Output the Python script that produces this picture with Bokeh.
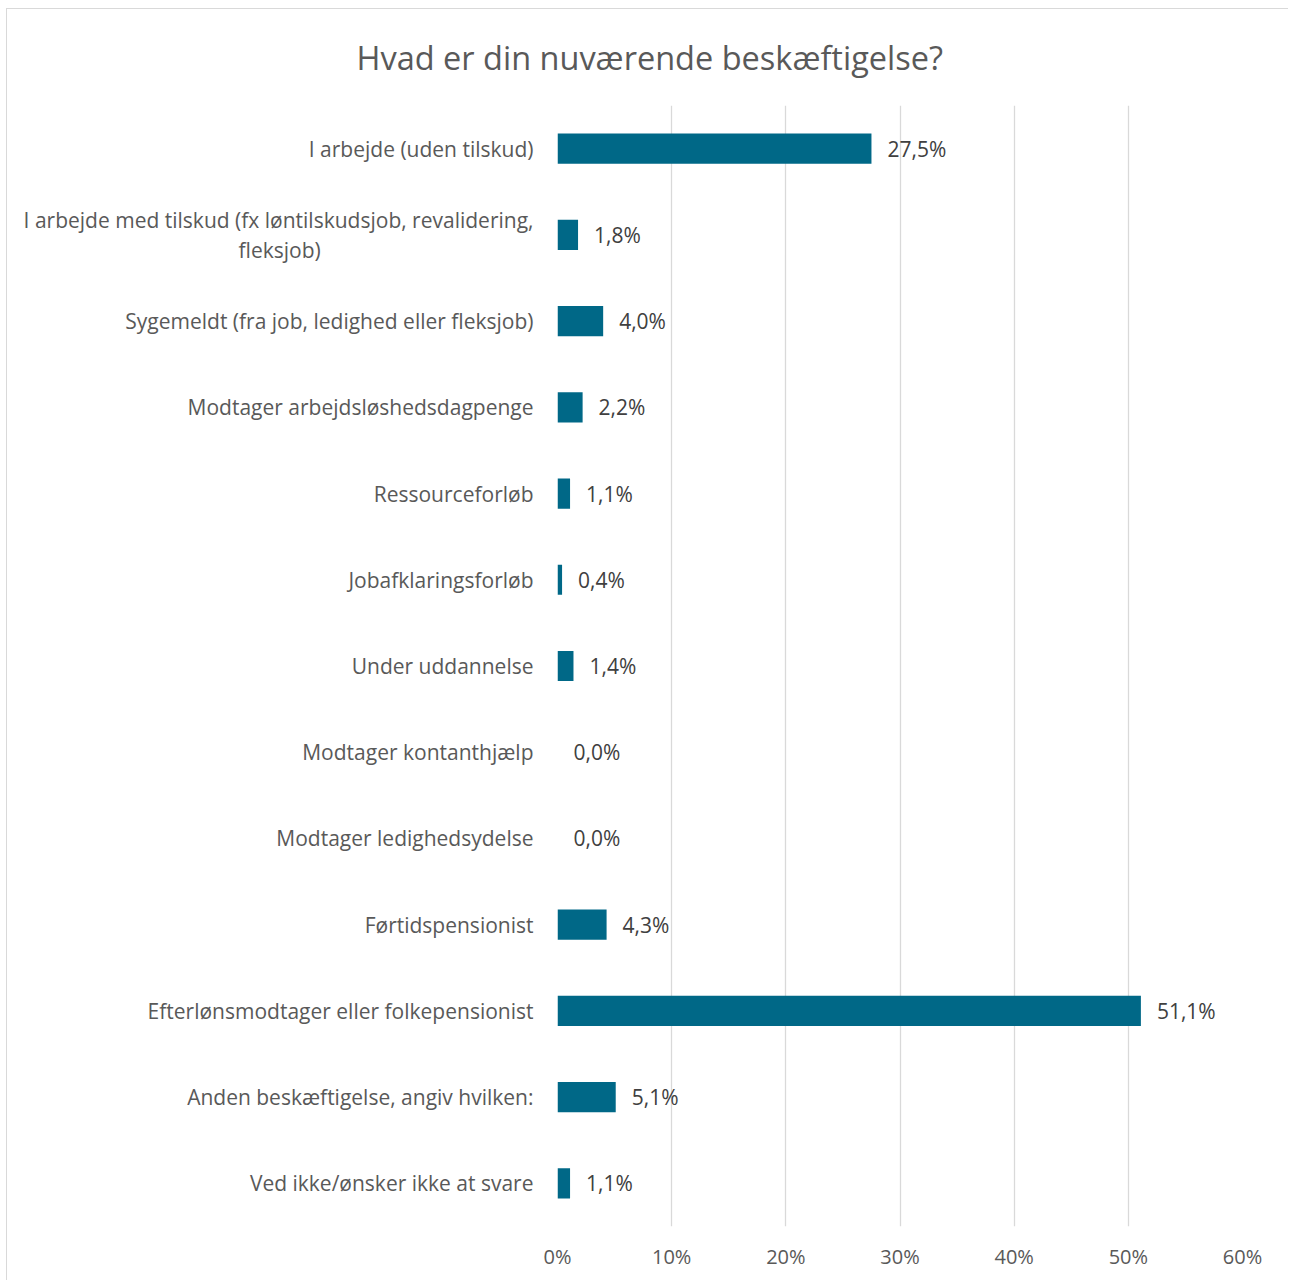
from bokeh.plotting import figure
from bokeh.models import FactorRange, Range1d, FixedTicker, ColumnDataSource, Title
from bokeh.embed import file_html
from bokeh.resources import INLINE
from bokeh.core.properties import value

title_text = "Hvad er din nuværende beskæftigelse?"
NB = "\u00a0"
categories = [
    "I arbejde (uden tilskud)",
    "I arbejde med tilskud (fx løntilskudsjob, revalidering,\nfleksjob)" + NB * 39,
    "Sygemeldt (fra job, ledighed eller fleksjob)",
    "Modtager arbejdsløshedsdagpenge",
    "Ressourceforløb",
    "Jobafklaringsforløb",
    "Under uddannelse",
    "Modtager kontanthjælp",
    "Modtager ledighedsydelse",
    "Førtidspensionist",
    "Efterlønsmodtager eller folkepensionist",
    "Anden beskæftigelse, angiv hvilken:",
    "Ved ikke/ønsker ikke at svare",
]
values = [27.5, 1.8, 4.0, 2.2, 1.1, 0.4, 1.4, 0.0, 0.0, 4.3, 51.1, 5.1, 1.1]
value_labels = ["27,5%", "1,8%", "4,0%", "2,2%", "1,1%", "0,4%", "1,4%", "0,0%", "0,0%",
                "4,3%", "51,1%", "5,1%", "1,1%"]
x_ticks = [0, 10, 20, 30, 40, 50, 60]
x_tick_labels = ["0%", "10%", "20%", "30%", "40%", "50%", "60%"]

W, H = 1282, 1272
p = figure(width=W, height=H, output_backend="svg", toolbar_location=None,
           y_range=FactorRange(factors=list(reversed(categories))),
           x_range=Range1d(0, 60),
           min_border_left=550, min_border_right=47, min_border_top=96, min_border_bottom=55)
p.styles = {"border-top": "1px solid #d9d9d9", "border-left": "1px solid #d9d9d9",
            "margin-left": "6px", "margin-top": "8px"}
p.outline_line_color = None
p.background_fill_color = "white"
p.border_fill_color = "white"

src = ColumnDataSource(dict(cat=categories, val=values, lab=value_labels))
p.hbar(y="cat", right="val", left=0, height=0.35, source=src, color="#006887", line_color=None)
p.text(x="val", y="cat", text="lab", source=src, x_offset=16, text_baseline="middle",
       text_align="left", text_font=value("Open Sans"), text_font_size="21px", text_color="#404040")

p.xaxis.ticker = FixedTicker(ticks=x_ticks)
p.xaxis.major_label_overrides = {t: l for t, l in zip(x_ticks, x_tick_labels)}
p.xaxis.axis_line_color = None
p.xaxis.major_tick_line_color = None
p.xaxis.minor_tick_line_color = None
p.xaxis.major_label_standoff = 10
p.xaxis.major_label_text_font = "Open Sans"
p.xaxis.major_label_text_font_size = "20px"
p.xaxis.major_label_text_color = "#595959"

p.yaxis.axis_line_color = None
p.yaxis.major_tick_line_color = None
p.yaxis.major_label_standoff = 18
p.yaxis.major_label_text_font = "Open Sans"
p.yaxis.major_label_text_font_size = "21px"
p.yaxis.major_label_text_color = "#595959"
p.yaxis.major_label_text_line_height = 1.07

p.xgrid.ticker = FixedTicker(ticks=x_ticks)
p.xgrid.grid_line_color = "#d9d9d9"
p.xgrid.grid_line_width = 1.3
p.ygrid.grid_line_color = None

p.title = Title(text=title_text, align="left", offset=-201, standoff=48, vertical_align="top",
                text_font="Open Sans", text_font_size="32.5px", text_font_style="normal",
                text_color="#595959")

open("out.html", "w").write(file_html(p, INLINE))
